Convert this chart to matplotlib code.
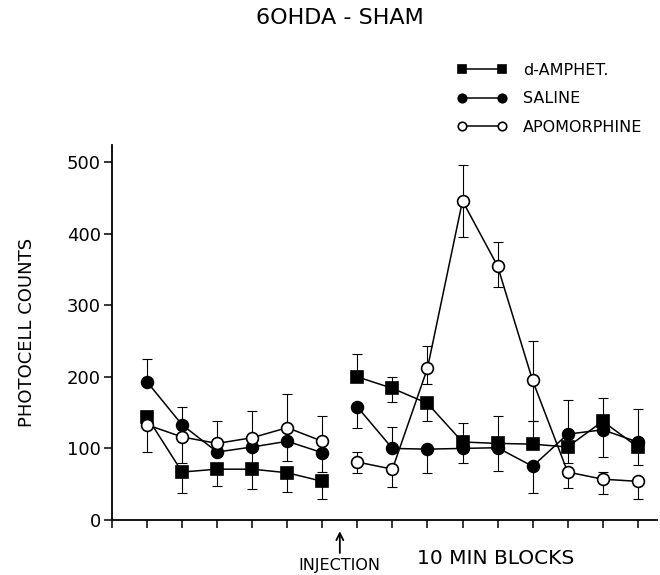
import numpy as np
import matplotlib
matplotlib.use("Agg")
import matplotlib.pyplot as plt

# 10 min blocks, injection between block 6 and 7
blocks = np.arange(1, 16)
n_pre = 6

amph = [144, 67, 71, 71, 66, 54, 200, 184, 163, 109, 107, 106, 102, 138, 102]
amph_lo = [0, 29, 24, 28, 27, 25, 0, 19, 25, 0, 0, 0, 22, 0, 25]
amph_hi = [0, 0, 0, 0, 0, 0, 32, 16, 0, 27, 39, 33, 0, 32, 0]

saline = [193, 133, 95, 102, 110, 94, 158, 100, 99, 100, 101, 75, 120, 126, 109]
saline_lo = [0, 0, 0, 25, 28, 27, 30, 0, 33, 20, 33, 37, 0, 38, 0]
saline_hi = [32, 25, 0, 0, 0, 0, 0, 30, 0, 0, 0, 0, 48, 0, 46]

apo = [133, 116, 107, 115, 129, 110, 81, 71, 212, 446, 355, 195, 67, 57, 54]
apo_lo = [38, 36, 0, 0, 0, 0, 15, 25, 22, 51, 29, 57, 22, 21, 25]
apo_hi = [0, 0, 31, 37, 47, 35, 14, 0, 31, 50, 33, 55, 0, 10, 0]

series = [
    ("d-AMPHET.", amph, amph_lo, amph_hi, "s", "black"),
    ("SALINE", saline, saline_lo, saline_hi, "o", "black"),
    ("APOMORPHINE", apo, apo_lo, apo_hi, "o", "white"),
]

yticks = [0, 100, 200, 300, 400, 500]

plt.rcParams['font.family'] = ['DejaVu Sans']

fig = plt.figure(figsize=(6.6, 5.75), dpi=100)
ax = fig.add_axes([0.1697, 0.0957, 0.8258, 0.652])

for label, vals, lo, hi, mk, fc in series:
    vals = np.array(vals, dtype=float)
    lo = np.array(lo, dtype=float)
    hi = np.array(hi, dtype=float)
    # one-sided error bars
    m = lo > 0
    ax.errorbar(blocks[m], vals[m], yerr=[lo[m], np.zeros(m.sum())], fmt="none",
                ecolor="black", elinewidth=0.8, capsize=3.5, capthick=0.8, zorder=2)
    m = hi > 0
    ax.errorbar(blocks[m], vals[m], yerr=[np.zeros(m.sum()), hi[m]], fmt="none",
                ecolor="black", elinewidth=0.8, capsize=3.5, capthick=0.8, zorder=2)
    # pre and post injection segments drawn separately
    for i, seg in enumerate([slice(0, n_pre), slice(n_pre, None)]):
        ax.plot(blocks[seg], vals[seg], marker=mk, color="black", mfc=fc, mec="black",
                markersize=8.5, markeredgewidth=1.2, linewidth=1.1, zorder=3,
                label=label if i == 0 else None)

ax.set_xlim(0, 15.55)
ax.set_ylim(0, 524)
ax.set_xticks(np.arange(0, 16))
ax.set_xticklabels([])
ax.set_yticks(yticks)
ax.set_yticklabels([str(t) for t in yticks], fontsize=13)
ax.tick_params(direction="out", length=6, width=1.1, pad=2)
for s in ["top", "right"]:
    ax.spines[s].set_visible(False)
for s in ["left", "bottom"]:
    ax.spines[s].set_linewidth(1.3)

ax.set_ylabel("PHOTOCELL COUNTS", fontsize=13, labelpad=22)

# injection arrow between blocks 6 and 7
ax.annotate("", xy=(6.5, -0.030), xycoords=("data", "axes fraction"),
            xytext=(6.5, -0.088), textcoords=("data", "axes fraction"),
            arrowprops=dict(arrowstyle="->,head_length=0.5,head_width=0.25",
                            color="black", lw=1.3, shrinkA=0, shrinkB=0),
            annotation_clip=False)
ax.text(6.5, -0.122, "INJECTION", transform=ax.get_xaxis_transform(),
        ha="center", va="center", fontsize=11.5)
ax.text(10.94, -0.103, "10 MIN BLOCKS", transform=ax.get_xaxis_transform(),
        ha="center", va="center", fontsize=14.5)

fig.text(0.515, 0.968, "6OHDA - SHAM", ha="center", va="center", fontsize=16)

ax.legend(loc="upper left", bbox_to_anchor=(0.680, 0.905), bbox_transform=fig.transFigure,
          numpoints=2, frameon=False, fontsize=11.5, markerscale=0.72,
          handlelength=3.15, handletextpad=1.0, labelspacing=0.85, borderpad=0)

fig.savefig("out.png", dpi=100)
